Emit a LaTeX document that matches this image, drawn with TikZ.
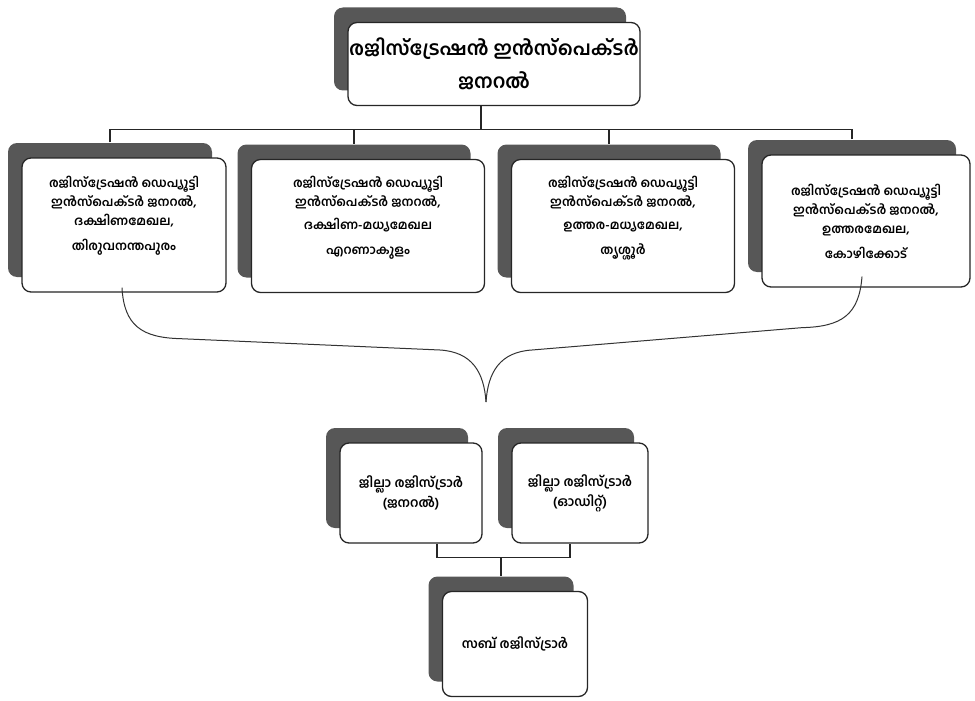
\documentclass[tikz,border=0pt]{standalone}
\usepackage{fontspec}
\newfontfamily\malfont[Script=Malayalam]{Hind Kochi}
\usetikzlibrary{calc, shadows}

\begin{document}
\begin{tikzpicture}[x=1pt,y=-1pt,
  officebox/.style={draw=black!85, line width=1.3pt, fill=white,
    rounded corners=9pt, inner sep=0pt, align=center,
    font=\malfont\bfseries,
    copy shadow={shadow xshift=-14pt, shadow yshift=15pt,
      fill=black!66, draw=none}},
  link/.style={draw=black!85, line width=1.2pt}]
% Frame of the whole picture
\useasboundingbox (0,0) rectangle (975,701);
% Inspector general at the top
\node [officebox, minimum width=292pt, minimum height=83pt,
  font=\malfont\bfseries\fontsize{19.5}{33}\selectfont]
  (ig) at (494,64) {രജിസ്ട്രേഷൻ ഇൻസ്പെക്ടർ\\ജനറൽ};
% Four deputy inspectors general
\node [officebox, minimum width=204pt, minimum height=134pt,
  font=\malfont\bfseries\fontsize{12.5}{19}\selectfont]
  (dig1) at (124,225) {രജിസ്ട്രേഷൻ ഡെപ്യൂട്ടി\\ഇൻസ്പെക്ടർ ജനറൽ,\\ദക്ഷിണമേഖല,\\[6pt]തിരുവനന്തപുരം\\[4pt]};
\node [officebox, minimum width=233pt, minimum height=133pt,
  font=\malfont\bfseries\fontsize{12.5}{19}\selectfont]
  (dig2) at (368,226) {രജിസ്ട്രേഷൻ ഡെപ്യൂട്ടി\\ഇൻസ്പെക്ടർ ജനറൽ,\\[4pt]ദക്ഷിണ-മധ്യമേഖല\\[6pt]എറണാകുളം\\[2pt]};
\node [officebox, minimum width=223pt, minimum height=133pt,
  font=\malfont\bfseries\fontsize{12.5}{19}\selectfont]
  (dig3) at (623,226) {രജിസ്ട്രേഷൻ ഡെപ്യൂട്ടി\\ഇൻസ്പെക്ടർ ജനറൽ,\\[4pt]ഉത്തര-മധ്യമേഖല,\\[6pt]തൃശ്ശൂർ\\[2pt]};
\node [officebox, minimum width=208pt, minimum height=132pt,
  font=\malfont\bfseries\fontsize{12.5}{19}\selectfont]
  (dig4) at (866,221) {രജിസ്ട്രേഷൻ ഡെപ്യൂട്ടി\\ഇൻസ്പെക്ടർ ജനറൽ,\\ഉത്തരമേഖല,\\[6pt]കോഴിക്കോട്};
% District registrars and sub registrar
\node [officebox, minimum width=142pt, minimum height=100pt,
  font=\malfont\bfseries\fontsize{13}{20}\selectfont]
  (drg) at (411,493) {ജില്ലാ രജിസ്ട്രാർ\\(ജനറൽ)};
\node [officebox, minimum width=136pt, minimum height=100pt,
  font=\malfont\bfseries\fontsize{13}{20}\selectfont]
  (dra) at (580,493) {ജില്ലാ രജിസ്ട്രാർ\\(ഓഡിറ്റ്)};
\node [officebox, minimum width=145pt, minimum height=105pt,
  font=\malfont\bfseries\fontsize{13}{20}\selectfont]
  (sr) at (515,644) {സബ് രജിസ്ട്രാർ};
% Bar under the inspector general
\coordinate (bar) at ($(ig.south)+(-13pt,-23pt)$);
\path [link] ($(ig.south)+(-13pt,0)$) -- (bar);
\foreach \d in {dig1,dig2,dig3,dig4}
  \path [link] ($(\d.north)+(-14pt,15pt)$) |- (bar);
% Brace gathering the four regions
\coordinate (bl) at ($(dig1.south)+(-2pt,5pt)$);
\coordinate (br) at ($(dig4.south)+(-4pt,11pt)$);
\coordinate (tip) at (486,402);
\draw [black!80, line width=1pt] (bl)
  .. controls ($(bl)+(2,38)$) and ($(bl)+(20,50)$) .. ($(bl)+(58,51)$)
  -- (440,350) .. controls (472,352) and (484,372) .. (tip);
\draw [black!80, line width=1pt] (br)
  .. controls ($(br)+(-3,38)$) and ($(br)+(-20,50)$) .. ($(br)+(-60,51)$)
  -- (532,350) .. controls (500,352) and (488,372) .. (tip);
% Both district registrars join the sub registrar
\coordinate (join) at ($(drg.south)+(26pt,-14pt)$);
\coordinate (srtop) at ($(sr.north)+(-14pt,15pt)$);
\path [link] ($(drg.south)+(26pt,0)$) -- (join)
  -| ($(dra.south)+(-10pt,0)$);
\path [link] (srtop) -- (srtop |- join);
\end{tikzpicture}
\end{document}
